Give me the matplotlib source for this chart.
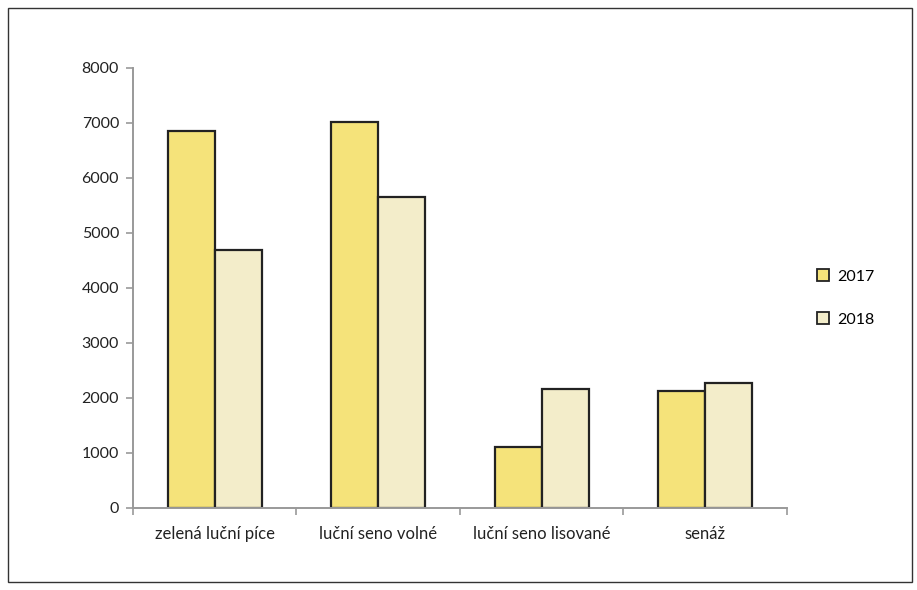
import numpy as np
import matplotlib.pyplot as plt
from matplotlib.patches import Rectangle
from matplotlib.lines import Line2D

kategorie = ["zelená luční píce", "luční seno volné", "luční seno lisované", "senáž"]
roky = ["2017", "2018"]
hodnoty_2017 = [6850, 7020, 1110, 2130]
hodnoty_2018 = [4690, 5650, 2160, 2270]
barvy = ["#F5E37A", "#F3EDCA"]

plt.rcParams['font.family'] = ['Lato', 'DejaVu Sans']

fig = plt.figure(figsize=(9.17, 5.90), dpi=100)
ax = fig.add_axes([0.145, 0.139, 0.713, 0.746])

x = np.arange(len(kategorie))
w = 0.287
ax.bar(x - w/2, hodnoty_2017, w, color=barvy[0], edgecolor="#222222", linewidth=1.6)
ax.bar(x + w/2, hodnoty_2018, w, color=barvy[1], edgecolor="#222222", linewidth=1.6)

ax.set_xlim(-0.5, 3.5)
ax.set_ylim(0, 8000)
ax.set_yticks(np.arange(0, 8001, 1000))
ax.set_xticks(x)
ax.set_xticklabels(kategorie, fontsize=12, color="#222222")
ax.set_xticks(np.arange(-0.5, 3.6, 1), minor=True)
ax.tick_params(axis='x', which='major', length=0, pad=13)
ax.tick_params(axis='x', which='minor', length=5, color="#999999", width=1.2)
ax.tick_params(axis='y', length=5, color="#999999", width=1.2, labelsize=11.5, labelcolor="#222222", pad=5)

for s in ["top", "right"]:
    ax.spines[s].set_visible(False)
for s in ["left", "bottom"]:
    ax.spines[s].set_color("#999999")
    ax.spines[s].set_linewidth(1.4)

# legenda
handles = [Line2D([], [], marker='s', linestyle='none', markersize=8,
                  markerfacecolor=c, markeredgecolor="#222222", markeredgewidth=1.3)
           for c in barvy]
fig.legend(handles, roky, loc='upper left', bbox_to_anchor=(0.873, 0.567),
           frameon=False, fontsize=11.5, handlelength=1.0, handletextpad=0.4, labelspacing=1.8)

# ramecek kolem grafu
fig.patches.append(Rectangle((8/917, 8/590), 904/917, 574/590, transform=fig.transFigure,
                             fill=False, edgecolor="#333333", linewidth=1.0))

fig.savefig("out.png", dpi=100)
